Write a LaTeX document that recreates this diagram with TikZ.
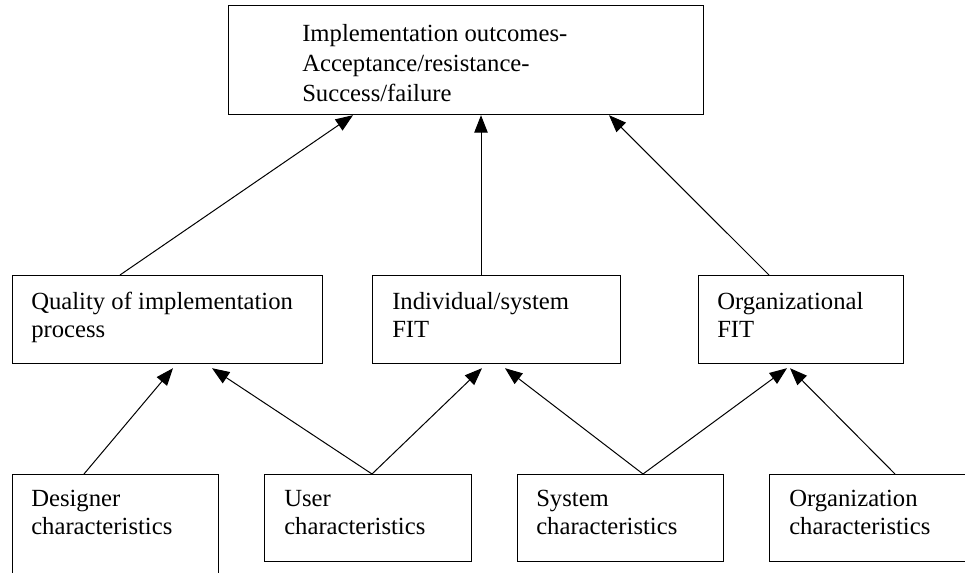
\documentclass[tikz,border=0pt]{standalone}
\usepackage{fontspec}
\setmainfont{Liberation Serif}
\usetikzlibrary{calc,arrows.meta}

\begin{document}
\begin{tikzpicture}[
  x=0.75pt, y=-0.75pt,
  box/.style={draw=black, line width=0.9pt, rectangle, anchor=north west, inner sep=0pt},
  lbl/.style={anchor=base west, inner sep=0pt, align=left,
              font=\fontsize{18.5pt}{21.5pt}\selectfont},
  arr/.style={line width=0.75pt, -{Triangle[length=13pt, width=10pt]}}
]
\useasboundingbox (0,0) rectangle (965,573);
\clip (0,0) rectangle (965,573);

% outcome box
\node[box, minimum width=356.25pt, minimum height=81.75pt] (top) at (228,5) {};

% middle layer: process and fit
\node[box, minimum width=232.5pt,  minimum height=66pt] (qual)   at (12,275)  {};
\node[box, minimum width=186pt,    minimum height=66pt] (indiv)  at (372,275) {};
\node[box, minimum width=153.75pt, minimum height=66pt] (orgfit) at (698,275) {};

% bottom layer: characteristics
\node[box, minimum width=154.5pt,  minimum height=90pt]    (designer) at (12,474)  {};
\node[box, minimum width=155.25pt, minimum height=65.25pt] (user)     at (264,474) {};
\node[box, minimum width=154.5pt,  minimum height=65.25pt] (system)   at (517,474) {};
\node[box, minimum width=157.5pt,  minimum height=65.25pt] (org)      at (769,474) {};

% texts (anchored at the baseline of their last line)
\node[lbl] (ttop) at ($(top.north west)+(74,97)$)
  {Implementation outcomes-\\[1.3pt]Acceptance/resistance-\\[1.3pt]Success/failure};
\node[lbl] (tqual)   at ($(qual.north west)+(19,63)$)   {Quality of implementation\\process};
\node[lbl] (tindiv)  at ($(indiv.north west)+(20,63)$)  {Individual/system\\FIT};
\node[lbl] (torgfit) at ($(orgfit.north west)+(19,63)$) {Organizational\\FIT};
\node[lbl] (tdesigner) at ($(designer.north west)+(19,61)$) {Designer\\characteristics};
\node[lbl] (tuser)     at ($(user.north west)+(20,61)$)     {User\\characteristics};
\node[lbl] (tsystem)   at ($(system.north west)+(19,61)$)   {System\\characteristics};
\node[lbl] (torg)      at ($(org.north west)+(20,61)$)      {Organization\\characteristics};

% middle layer to outcomes
\draw[arr] ($(qual.north west)+(108,0)$)   -- ($(top.south west)+(125,0)$);
\draw[arr] ($(indiv.north west)+(109,0)$)  -- ($(top.south west)+(253,0)$);
\draw[arr] ($(orgfit.north west)+(71,0)$)  -- ($(top.south west)+(381,0)$);

% characteristics to middle layer
\draw[arr] ($(designer.north west)+(72,0)$) -- ($(qual.south west)+(161,4)$);
\draw[arr] ($(user.north west)+(108,0)$)    -- ($(qual.south west)+(200,4)$);
\draw[arr] ($(user.north west)+(108,0)$)    -- ($(indiv.south west)+(110,4)$);
\draw[arr] ($(system.north west)+(126,0)$)  -- ($(indiv.south west)+(133,4)$);
\draw[arr] ($(system.north west)+(126,0)$)  -- ($(orgfit.south west)+(89,4)$);
\draw[arr] ($(org.north west)+(126,0)$)     -- ($(orgfit.south west)+(92,4)$);
\end{tikzpicture}
\end{document}
